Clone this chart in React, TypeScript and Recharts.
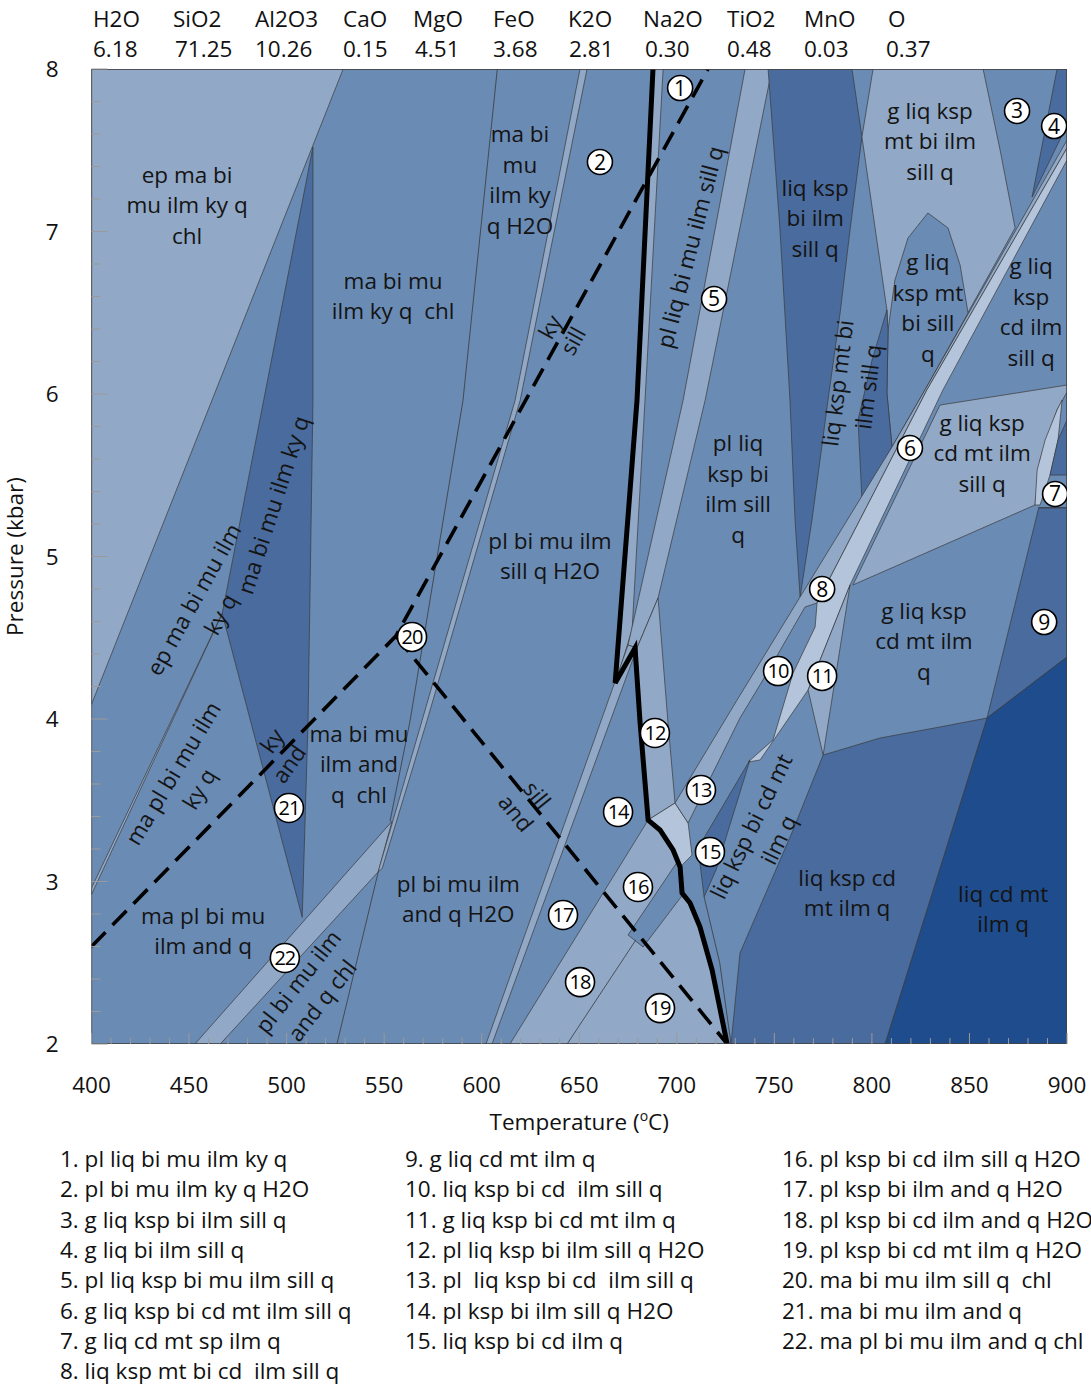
import React from 'react';
import { ComposedChart, Scatter, XAxis, YAxis } from 'recharts';

type Pt = [number, number];

// ---- bulk composition (mol %) ----
const oxides = ['H2O', 'SiO2', 'Al2O3', 'CaO', 'MgO', 'FeO', 'K2O', 'Na2O', 'TiO2', 'MnO', 'O'];
const oxideValues = ['6.18', '71.25', '10.26', '0.15', '4.51', '3.68', '2.81', '0.30', '0.48', '0.03', '0.37'];

// ---- axes ----
const tempLabels = [400, 450, 500, 550, 600, 650, 700, 750, 800, 850, 900];
const pressLabels = [2, 3, 4, 5, 6, 7, 8];

// ---- phase field outlines, [T (°C), P (kbar)] ----
const plotBox: Pt[] = [[400, 2], [400, 8], [900, 8], [900, 2]];
const epField: Pt[] = [[400, 8], [529, 8], [400, 4.09]];
const kyDarkField: Pt[] = [[513.5, 7.52], [513.5, 5.96], [511, 3.99], [508, 2.78], [467, 4.65]];
const plKyBand: Pt[] = [[467, 4.65], [400, 2.96], [400, 2.92]];
const field22: Pt[] = [[453, 2], [554, 3.37], [547, 3.06], [466, 2]];
const h2oBand: Pt[] = [[650.4, 8], [654, 8], [619.7, 5.96], [572, 3.99], [549, 3.08], [546.9, 3.06], [569.4, 3.99], [617.1, 5.96]];
const liqSliver: Pt[] = [[687.8, 8], [693, 8], [683.7, 5.96], [677.1, 4.55], [669.4, 4.25], [679.6, 5.96]];
const field5: Pt[] = [[735, 8], [748.8, 8], [714.5, 5.96], [690.4, 4.745], [679.6, 4.437], [675, 4.455], [703.2, 5.96]];
const field12: Pt[] = [[679.6, 4.437], [690.4, 4.745], [695.5, 3.975], [699.1, 3.483], [685.3, 3.378], [681.2, 3.975]];
const kspBand: Pt[] = [[675, 4.455], [679.6, 4.437], [605.3, 2], [602.2, 2]];
const field161819: Pt[] = [[685.3, 3.378], [691.4, 3.317], [698.1, 3.194], [701.7, 3.089], [702.7, 2.929], [706.8, 2.868], [711.9, 2.72], [718.1, 2.455], [725.8, 2], [614.5, 2]];
const cdStrip: Pt[] = [[700.2, 3.12], [703.7, 2.929], [682.7, 2.597], [675, 2.671]];
const cdIlmPatch: Pt[] = [[685.3, 3.378], [699.1, 3.483], [705.8, 3.36], [707.8, 3.163], [701.7, 3.089], [698.1, 3.194], [691.4, 3.317]];
const liqKspBiField: Pt[] = [[746.8, 8], [789.8, 8], [794.9, 7.582], [788.8, 7.009], [783.7, 6.498], [777.5, 5.963], [769.3, 5.225], [763.2, 4.751], [760.6, 5.225], [758, 5.963], [752.9, 7.009]];
const gLiqKspMtField: Pt[] = [[800.6, 8], [857, 8], [865.7, 7.502], [873.4, 7.022], [827.2, 6.025], [810.3, 5.674], [807.7, 6.517], [794.9, 7.582]];
const gLiqDome: Pt[] = [[810.3, 5.674], [807.7, 6.006], [808.3, 6.394], [811.8, 6.701], [818.5, 6.96], [828.7, 7.114], [839, 7.022], [845.2, 6.794], [849.3, 6.498], [827.2, 6.025]];
const ilmSillSliver: Pt[] = [[807.7, 6.517], [808.3, 6.394], [807.7, 6.006], [810.3, 5.674], [794.9, 5.348], [792.9, 5.84], [800.1, 6.209]];
const field4: Pt[] = [[894.9, 8], [900, 8], [900, 7.655], [882.1, 7.212]];
const band8: Pt[] = [[900, 7.563], [827.2, 6.025], [810.3, 5.674], [763.2, 4.751], [730.9, 4.117], [699.1, 3.483], [705.8, 3.36], [732.4, 4.006], [746.3, 4.283], [765.7, 4.689], [771.9, 4.714], [828.2, 6.025], [900, 7.514]];
const band6: Pt[] = [[900, 7.514], [900, 7.44], [836.4, 6.025], [788.8, 4.825], [767.3, 4.178], [742.7, 3.748], [736.5, 3.735], [749.3, 3.871], [759.6, 4.283], [770.9, 4.566], [771.9, 4.714], [828.2, 6.025]];
const field11: Pt[] = [[788.8, 4.825], [775, 3.778], [767.3, 4.178]];
const gCdMtSillField: Pt[] = [[834.9, 5.932], [900, 6.055], [900, 6.012], [894.9, 5.902], [886.2, 5.594], [883.6, 5.317], [790.3, 4.825]];
const spLens: Pt[] = [[884.7, 5.532], [888.8, 5.717], [894.9, 5.902], [897.5, 5.963], [895.4, 5.717], [891.3, 5.501], [886.2, 5.317], [883.6, 5.317]];
const spCorner: Pt[] = [[895.4, 5.717], [900, 5.84], [900, 5.501], [891.3, 5.501]];
const field9: Pt[] = [[885.5, 5.3], [900, 5.3], [900, 4.381], [859, 4.006]];
const liqCdMtField: Pt[] = [[859, 4.006], [900, 4.381], [900, 2], [806.7, 2]];
const liqKspCdField: Pt[] = [[775, 3.778], [804.2, 3.883], [834.9, 3.951], [859, 4.006], [806.7, 2], [727.8, 2], [732.4, 2.56], [759.6, 3.317]];
const field15: Pt[] = [[710.9, 3.206], [737.5, 3.748], [720.1, 3.071], [714, 2.905]];

// ---- single boundaries between fields of equal shade ----
const lineMuOut: Pt[] = [[608, 8], [590.4, 5.96], [563.3, 3.99], [553, 3.37]];
const lineChlOut: Pt[] = [[547, 3.06], [525.8, 2]];
const line1819: Pt[] = [[679, 2.64], [643.8, 2]];
const line7: Pt[] = [[885.3, 5.3], [900, 5.3]];
const lineBiOut: Pt[] = [[714, 2.905], [722, 2.5], [727.8, 2]];

// ---- aluminosilicate reactions and the solidus ----
const kySill: Pt[] = [[400, 2.6], [556, 4.51], [716, 8]];
const sillAnd: Pt[] = [[556, 4.51], [725.8, 2]];
const solidus: Pt[] = [[687.8, 8], [679.6, 5.96], [668.4, 4.222], [678.6, 4.437], [681.2, 3.975], [685.3, 3.378], [691.4, 3.317], [698.1, 3.194], [701.7, 3.089], [702.7, 2.929], [706.8, 2.868], [711.9, 2.72], [718.1, 2.455], [725.8, 2]];

// ---- field names ----
const fieldLabels = [
  { t: 449, p: 7.163, lines: ['ep ma bi', 'mu ilm ky q', 'chl'], rot: 0 },
  { t: 554.6, p: 6.603, lines: ['ma bi mu', 'ilm ky q  chl'], rot: 0 },
  { t: 619.6, p: 7.317, lines: ['ma bi', 'mu', 'ilm ky', 'q H2O'], rot: 0 },
  { t: 459.3, p: 4.69, lines: ['ep ma bi mu ilm', 'ky q'], rot: -61 },
  { t: 493.1, p: 5.317, lines: ['ma bi mu ilm ky q'], rot: -72 },
  { t: 448.5, p: 3.618, lines: ['ma pl bi mu ilm', 'ky q'], rot: -59 },
  { t: 492.5, p: 3.865, lines: ['ky'], rot: -55 },
  { t: 501.2, p: 3.723, lines: ['and'], rot: -55 },
  { t: 635, p: 6.412, lines: ['ky'], rot: -61 },
  { t: 646.8, p: 6.326, lines: ['sill'], rot: -61 },
  { t: 628.4, p: 3.532, lines: ['sill'], rot: 51 },
  { t: 617.6, p: 3.421, lines: ['and'], rot: 51 },
  { t: 537.1, p: 3.723, lines: ['ma bi mu', 'ilm and', 'q  chl'], rot: 0 },
  { t: 457.2, p: 2.695, lines: ['ma pl bi mu', 'ilm and q'], rot: 0 },
  { t: 512, p: 2.326, lines: ['pl bi mu ilm', 'and q chl'], rot: -52 },
  { t: 635, p: 5.003, lines: ['pl bi mu ilm', 'sill q H2O'], rot: 0 },
  { t: 588, p: 2.892, lines: ['pl bi mu ilm', 'and q H2O'], rot: 0 },
  { t: 706.8, p: 6.905, lines: ['pl liq bi mu ilm sill q'], rot: -75.5 },
  { t: 770.9, p: 7.083, lines: ['liq ksp', 'bi ilm', 'sill q'], rot: 0 },
  { t: 829.8, p: 7.557, lines: ['g liq ksp', 'mt bi ilm', 'sill q'], rot: 0 },
  { t: 828.7, p: 6.529, lines: ['g liq', 'ksp mt', 'bi sill', 'q'], rot: 0 },
  { t: 881.6, p: 6.505, lines: ['g liq', 'ksp', 'cd ilm', 'sill q'], rot: 0 },
  { t: 731.4, p: 5.415, lines: ['pl liq', 'ksp bi', 'ilm sill', 'q'], rot: 0 },
  { t: 790.3, p: 6.055, lines: ['liq ksp mt bi', 'ilm sill q'], rot: -83 },
  { t: 856.5, p: 5.637, lines: ['g liq ksp', 'cd mt ilm', 'sill q'], rot: 0 },
  { t: 826.7, p: 4.48, lines: ['g liq ksp', 'cd mt ilm', 'q'], rot: 0 },
  { t: 745.2, p: 3.298, lines: ['liq ksp bi cd mt', 'ilm q'], rot: -64 },
  { t: 787.3, p: 2.929, lines: ['liq ksp cd', 'mt ilm q'], rot: 0 },
  { t: 867.3, p: 2.83, lines: ['liq cd mt', 'ilm q'], rot: 0 },
];

// ---- numbered small fields ----
const fieldNumbers = [
  { n: 1, t: 701.7, p: 7.883 }, { n: 2, t: 660.6, p: 7.428 }, { n: 3, t: 874.4, p: 7.742 },
  { n: 4, t: 893.4, p: 7.649 }, { n: 5, t: 719.1, p: 6.585 }, { n: 6, t: 819.5, p: 5.668 },
  { n: 7, t: 893.9, p: 5.385 }, { n: 8, t: 774.5, p: 4.8 }, { n: 9, t: 888.3, p: 4.597 },
  { n: 10, t: 751.9, p: 4.295 }, { n: 11, t: 774.5, p: 4.265 }, { n: 12, t: 688.8, p: 3.914 },
  { n: 13, t: 712.4, p: 3.563 }, { n: 14, t: 669.9, p: 3.428 }, { n: 15, t: 717, p: 3.182 },
  { n: 16, t: 680.1, p: 2.966 }, { n: 17, t: 641.7, p: 2.794 }, { n: 18, t: 650.4, p: 2.381 },
  { n: 19, t: 691.4, p: 2.221 }, { n: 20, t: 564.3, p: 4.505 }, { n: 21, t: 501.2, p: 3.452 },
  { n: 22, t: 499.1, p: 2.529 },
];

const legendCol1 = [
  '1. pl liq bi mu ilm ky q', '2. pl bi mu ilm ky q H2O', '3. g liq ksp bi ilm sill q',
  '4. g liq bi ilm sill q', '5. pl liq ksp bi mu ilm sill q', '6. g liq ksp bi cd mt ilm sill q',
  '7. g liq cd mt sp ilm q', '8. liq ksp mt bi cd  ilm sill q',
];
const legendCol2 = [
  '9. g liq cd mt ilm q', '10. liq ksp bi cd  ilm sill q', '11. g liq ksp bi cd mt ilm q',
  '12. pl liq ksp bi ilm sill q H2O', '13. pl  liq ksp bi cd  ilm sill q', '14. pl ksp bi ilm sill q H2O',
  '15. liq ksp bi cd ilm q',
];
const legendCol3 = [
  '16. pl ksp bi cd ilm sill q H2O', '17. pl ksp bi ilm and q H2O', '18. pl ksp bi cd ilm and q H2O',
  '19. pl ksp bi cd mt ilm q H2O', '20. ma bi mu ilm sill q  chl', '21. ma bi mu ilm and q',
  '22. ma pl bi mu ilm and q chl',
];

// ---- styling ----
const FONT = '"Open Sans", "DejaVu Sans", sans-serif';
const FS = 22.5;
const SHADE = { M: '#6a8bb4', L: '#91a8c6', VL: '#b4c4da', D: '#4a6b9e', DD: '#1f4c8c' };
const EDGE = '#3a3a3a';

const rows = (pts: Pt[]) => pts.map(([t, p]) => ({ t, p }));

const fields: { pts: Pt[]; fill: string }[] = [
  { pts: plotBox, fill: SHADE.M },
  { pts: epField, fill: SHADE.L },
  { pts: kyDarkField, fill: SHADE.D },
  { pts: plKyBand, fill: SHADE.L },
  { pts: field22, fill: SHADE.L },
  { pts: h2oBand, fill: SHADE.L },
  { pts: liqSliver, fill: SHADE.L },
  { pts: field5, fill: SHADE.L },
  { pts: field12, fill: SHADE.L },
  { pts: kspBand, fill: SHADE.L },
  { pts: field161819, fill: SHADE.L },
  { pts: cdStrip, fill: SHADE.M },
  { pts: cdIlmPatch, fill: SHADE.VL },
  { pts: liqKspBiField, fill: SHADE.D },
  { pts: gLiqKspMtField, fill: SHADE.L },
  { pts: gLiqDome, fill: SHADE.M },
  { pts: ilmSillSliver, fill: SHADE.D },
  { pts: field4, fill: SHADE.D },
  { pts: band8, fill: SHADE.L },
  { pts: band6, fill: SHADE.VL },
  { pts: field11, fill: SHADE.L },
  { pts: gCdMtSillField, fill: SHADE.L },
  { pts: spLens, fill: SHADE.VL },
  { pts: spCorner, fill: SHADE.D },
  { pts: field9, fill: SHADE.D },
  { pts: liqCdMtField, fill: SHADE.DD },
  { pts: liqKspCdField, fill: SHADE.D },
  { pts: field15, fill: SHADE.D },
];

const thinLines: Pt[][] = [lineMuOut, lineChlOut, line1819, line7, lineBiOut];

const ptsAttr = (pts: { x: number; y: number }[]) => pts.map((q) => `${q.x},${q.y}`).join(' ');

const polygonLine = (fill: string) => (props: any) => (
  <polygon points={ptsAttr(props.points)} fill={fill} stroke={EDGE} strokeWidth={0.7} strokeLinejoin="round" />
);

const polyLine = (stroke: string, width: number, dash?: string) => (props: any) => (
  <polyline points={ptsAttr(props.points)} fill="none" stroke={stroke} strokeWidth={width} strokeDasharray={dash} strokeLinejoin="miter" />
);

const NoDot = () => <g />;

const FieldText = (props: any) => {
  const { cx, cy, payload } = props;
  const lines: string[] = payload.lines;
  const rot: number = payload.rot;
  const lh = 30.5;
  const y0 = cy - ((lines.length - 1) * lh) / 2;
  return (
    <text
      x={cx}
      y={cy}
      textAnchor="middle"
      fontSize={FS}
      fontFamily={FONT}
      fill="#141414"
      style={{ whiteSpace: 'pre' }}
      transform={rot ? `rotate(${rot} ${cx} ${cy})` : undefined}
    >
      {lines.map((s, i) => (
        <tspan key={i} x={cx} y={y0 + i * lh} dy="0.36em">
          {s}
        </tspan>
      ))}
    </text>
  );
};

const NumberMark = (props: any) => {
  const { cx, cy, payload } = props;
  const two = payload.n >= 10;
  return (
    <g>
      <circle cx={cx} cy={cy} r={two ? 14.5 : 12.5} fill="#ffffff" stroke="#000" strokeWidth={1.6} />
      <text x={cx} y={cy} dy="0.36em" textAnchor="middle" fontSize={two ? 20 : 21} letterSpacing={two ? -1 : 0} fontFamily={FONT} fill="#000">
        {payload.n}
      </text>
    </g>
  );
};

const minorT = Array.from({ length: 51 }, (_, i) => 400 + i * 10);
const minorP = Array.from({ length: 31 }, (_, i) => Math.round((2 + i * 0.2) * 10) / 10);

const XTick = (props: any) => {
  const { x, y, payload } = props;
  const v = payload.value as number;
  const major = tempLabels.includes(v);
  return (
    <g>
      <line x1={x} y1={y} x2={x} y2={y - (major ? 11 : 6)} stroke="#9a9a9a" strokeWidth={1} />
      {major && (
        <text x={x} y={y + 49} textAnchor="middle" fontSize={FS} fontFamily={FONT} fill="#111">
          {v}
        </text>
      )}
    </g>
  );
};

const YTick = (props: any) => {
  const { x, y, payload } = props;
  const v = payload.value as number;
  const major = pressLabels.includes(v);
  return (
    <g>
      <line x1={x} y1={y} x2={x + (major ? 16 : 9)} y2={y} stroke="#9a9a9a" strokeWidth={1} />
      {major && (
        <text x={x - 33} y={y} dy="0.36em" textAnchor="end" fontSize={FS} fontFamily={FONT} fill="#111">
          {v}
        </text>
      )}
    </g>
  );
};

const headerX = [93, 173, 255, 343, 413, 493, 568, 643, 727, 804, 888];
const valueX = [93, 175, 255, 343, 415, 493, 569, 645, 727, 804, 886];

export default function App() {
  const textStyle: React.CSSProperties = {
    position: 'absolute',
    fontFamily: FONT,
    fontSize: FS,
    lineHeight: '30px',
    color: '#111',
    whiteSpace: 'pre',
  };
  return (
    <div style={{ position: 'absolute', left: 0, top: 0, width: 1091, height: 1387, background: '#fff', overflow: 'hidden' }}>
      {oxides.map((o, i) => (
        <div key={o} style={{ ...textStyle, left: headerX[i], top: 4 }}>{o}</div>
      ))}
      {oxideValues.map((v, i) => (
        <div key={i} style={{ ...textStyle, left: valueX[i], top: 34 }}>{v}</div>
      ))}

      <div style={{ position: 'absolute', left: 0, top: 0 }}>
        <ComposedChart width={1091} height={1145} margin={{ top: 69, right: 24, bottom: 51, left: 31.5 }}>
          <XAxis
            type="number"
            dataKey="t"
            domain={[400, 900]}
            allowDataOverflow
            ticks={minorT}
            interval={0}
            tickSize={0}
            tickMargin={0}
            axisLine={false}
            tick={<XTick />}
            height={50}
            label={{
              content: (p: any) => {
                const vb = p.viewBox;
                return (
                  <text x={vb.x + vb.width / 2} y={vb.y + 86} textAnchor="middle" fontSize={FS} fontFamily={FONT} fill="#111">
                    Temperature (<tspan fontSize={14} dy={-9}>o</tspan><tspan dy={9}>C)</tspan>
                  </text>
                );
              },
            }}
          />
          <YAxis
            type="number"
            dataKey="p"
            domain={[2, 8]}
            allowDataOverflow
            ticks={minorP}
            interval={0}
            tickSize={0}
            tickMargin={0}
            axisLine={false}
            tick={<YTick />}
            width={60}
            label={{
              content: (p: any) => {
                const vb = p.viewBox;
                const cx = vb.x - 9;
                const cy = vb.y + vb.height / 2;
                return (
                  <text x={cx} y={cy} transform={`rotate(-90 ${cx} ${cy})`} textAnchor="middle" fontSize={FS} fontFamily={FONT} fill="#111">
                    Pressure (kbar)
                  </text>
                );
              },
            }}
          />

          {fields.map((f, i) => (
            <Scatter key={`f${i}`} data={rows(f.pts)} shape={NoDot} line={polygonLine(f.fill)} isAnimationActive={false} />
          ))}
          {thinLines.map((l, i) => (
            <Scatter key={`l${i}`} data={rows(l)} shape={NoDot} line={polyLine(EDGE, 0.8)} isAnimationActive={false} />
          ))}
          <Scatter data={rows(kySill)} shape={NoDot} line={polyLine('#000', 3.6, '20 10')} isAnimationActive={false} />
          <Scatter data={rows(sillAnd)} shape={NoDot} line={polyLine('#000', 3.6, '20 10')} isAnimationActive={false} />
          <Scatter data={rows(solidus)} shape={NoDot} line={polyLine('#000', 5)} isAnimationActive={false} />
          <Scatter data={rows([...plotBox, plotBox[0]])} shape={NoDot} line={polyLine('#444', 1.3)} isAnimationActive={false} />
          <Scatter data={fieldLabels} shape={<FieldText />} isAnimationActive={false} />
          <Scatter data={fieldNumbers} shape={<NumberMark />} isAnimationActive={false} />
        </ComposedChart>
      </div>

      {legendCol1.map((s, i) => (
        <div key={s} style={{ ...textStyle, left: 60, top: 1144 + i * 30.3 }}>{s}</div>
      ))}
      {legendCol2.map((s, i) => (
        <div key={s} style={{ ...textStyle, left: 405, top: 1144 + i * 30.3 }}>{s}</div>
      ))}
      {legendCol3.map((s, i) => (
        <div key={s} style={{ ...textStyle, left: 782, top: 1144 + i * 30.3 }}>{s}</div>
      ))}
    </div>
  );
}
